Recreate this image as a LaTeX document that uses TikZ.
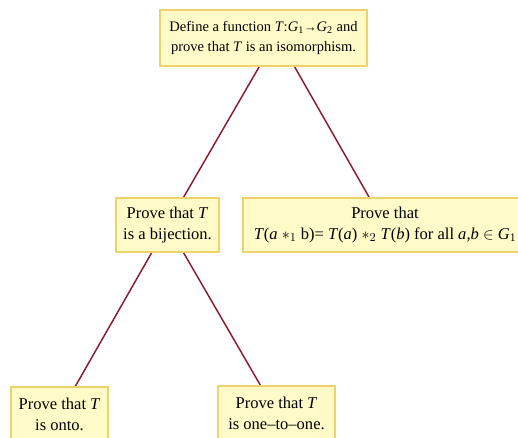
\documentclass[tikz,border=0pt]{standalone}
\usepackage{fontspec}
\setmainfont{Liberation Serif}
\usetikzlibrary{backgrounds}
\definecolor{cream}{HTML}{FFFBC8}
\definecolor{gold}{HTML}{EDD46A}
\definecolor{wine}{HTML}{8C1C2C}

\begin{document}
\begin{tikzpicture}[x=0.75pt,y=-0.75pt,
  box/.style={draw=gold,line width=1.5pt,fill=cream,align=center,
    inner xsep=4pt,minimum height=54*0.75pt,
    font=\fontsize{12.4}{15.8}\selectfont},
  link/.style={wine,line width=1.1pt}]
\useasboundingbox (0,0) rectangle (518,437);
\clip (0,0) rectangle (518,437);
\coordinate (root) at (277,36);
\node[box,minimum width=207*0.75pt,minimum height=56*0.75pt,
  font=\fontsize{10.9}{15}\selectfont] (define) at (263.5,37.5)
  {Define a function \textit{T}:\textit{G}\textsubscript{1}{\fontsize{9.5}{9}\selectfont →}\textit{G}\textsubscript{2} and\\
   prove that \textit{T} is an isomorphism.};
\node[box,minimum width=103*0.75pt] (bij) at (167.5,225)
  {Prove that \textit{T}\\is a bijection.};
\node[box,minimum width=284*0.75pt] (hom) at (385,225)
  {Prove that\\
   \textit{T}(\textit{a} $\ast_1$ b)= \textit{T}(\textit{a}) $\ast_2$ \textit{T}(\textit{b}) for all \textit{a},\textit{b} $\in$ \textit{G}\textsubscript{1}};
\node[box,minimum width=97*0.75pt] (onto) at (59.5,414)
  {Prove that \textit{T}\\is onto.};
\node[box,minimum width=117*0.75pt] (inj) at (276.5,413)
  {Prove that \textit{T}\\is one--to--one.};
\begin{scope}[on background layer]
\draw[link] (root) -- (bij.center);
\draw[link] (root) -- (hom.center);
\draw[link] (bij.center) -- (onto.center);
\draw[link] (bij.center) -- (inj.center);
\end{scope}
\end{tikzpicture}
\end{document}
